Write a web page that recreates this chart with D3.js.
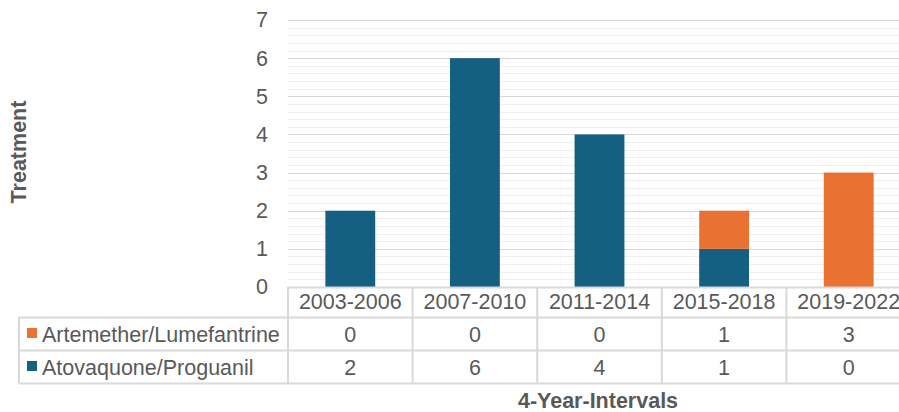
<!DOCTYPE html>
<html>
<head>
<meta charset="utf-8">
<script src="https://cdn.jsdelivr.net/npm/d3@7/dist/d3.min.js"></script>
<style>
  html, body { margin: 0; padding: 0; background: #fff; }
  svg { display: block; }
  text { font-family: "Liberation Sans", Arial, sans-serif; fill: #595959; }
</style>
</head>
<body>
<svg id="chart" width="899" height="412"></svg>
<script>
// Treatment counts per 4-year interval
const categories = ["2003-2006", "2007-2010", "2011-2014", "2015-2018", "2019-2022"];
const seriesNames = ["Atovaquone/Proguanil", "Artemether/Lumefantrine"];
const atovaquone = [2, 6, 4, 1, 0];
const artemether = [0, 0, 0, 1, 3];
const yTicks = [0, 1, 2, 3, 4, 5, 6, 7];
const colors = { "Atovaquone/Proguanil": "#156082", "Artemether/Lumefantrine": "#E97132" };

const svg = d3.select("#chart");
const FS = "21.5px";

const plot = { left: 288, right: 911, top: 20, bottom: 287 };
const tableLeft = 19;
const rowLines = [287, 317, 350, 383];

const x = d3.scaleBand().domain(categories).range([plot.left, plot.right]).paddingInner(0).paddingOuter(0);
const y = d3.scaleLinear().domain([0, 7]).range([plot.bottom, plot.top]);

// minor gridlines every 0.2
const minor = d3.range(0, 7.0001, 0.2).filter(v => Math.abs(v - Math.round(v)) > 1e-6);
svg.append("g").selectAll("line").data(minor).join("line")
  .attr("x1", plot.left).attr("x2", plot.right)
  .attr("y1", d => Math.round(y(d)) + 0.5).attr("y2", d => Math.round(y(d)) + 0.5)
  .attr("stroke", "#EFEFEF").attr("stroke-width", 1);

// major gridlines
svg.append("g").selectAll("line").data(yTicks.filter(d => d > 0)).join("line")
  .attr("x1", plot.left).attr("x2", plot.right)
  .attr("y1", d => Math.round(y(d)) + 0.5).attr("y2", d => Math.round(y(d)) + 0.5)
  .attr("stroke", "#D9D9D9").attr("stroke-width", 1);

// y axis labels
const yAxis = d3.axisLeft(y).tickValues(yTicks).tickSize(0).tickPadding(20).tickFormat(d3.format("d"));
const gy = svg.append("g").attr("transform", `translate(${plot.left},0)`).call(yAxis);
gy.select(".domain").remove();
gy.selectAll("text").style("font-size", FS).attr("fill", "#595959")
  .style("font-family", "'Liberation Sans', Arial, sans-serif");

// stacked bars
const rows = categories.map((c, i) => ({ cat: c, "Atovaquone/Proguanil": atovaquone[i], "Artemether/Lumefantrine": artemether[i] }));
const stacked = d3.stack().keys(seriesNames)(rows);
const barW = x.bandwidth() / 2.5;
svg.append("g").selectAll("g").data(stacked).join("g")
  .attr("fill", d => colors[d.key])
  .selectAll("rect").data(d => d.filter(p => p[1] - p[0] > 0)).join("rect")
  .attr("x", d => x(d.data.cat) + (x.bandwidth() - barW) / 2)
  .attr("width", barW)
  .attr("y", d => y(d[1]))
  .attr("height", d => y(d[0]) - y(d[1]));

// data table
const table = svg.append("g");
const colEdges = [tableLeft].concat(categories.map(c => x(c)), [plot.right]);
// horizontal lines
table.selectAll("line.h").data(rowLines).join("line").attr("class", "h")
  .attr("x1", (d, i) => i === 0 ? plot.left : tableLeft).attr("x2", plot.right)
  .attr("y1", d => d + 0.5).attr("y2", d => d + 0.5)
  .attr("stroke", "#D9D9D9").attr("stroke-width", 2);
// vertical lines
table.selectAll("line.v").data(colEdges).join("line").attr("class", "v")
  .attr("x1", d => d).attr("x2", d => d)
  .attr("y1", (d, i) => i === 0 ? rowLines[1] : rowLines[0])
  .attr("y2", rowLines[3])
  .attr("stroke", "#D9D9D9").attr("stroke-width", 2);

// header: category labels
table.selectAll("text.cat").data(categories).join("text").attr("class", "cat")
  .attr("x", d => x(d) + x.bandwidth() / 2).attr("y", 309)
  .attr("text-anchor", "middle").style("font-size", FS).text(d => d);

// series rows (orange on top, as in the stack)
const tableRows = [
  { name: "Artemether/Lumefantrine", values: artemether, base: 342, top: rowLines[1] },
  { name: "Atovaquone/Proguanil", values: atovaquone, base: 375, top: rowLines[2] }
];
tableRows.forEach(r => {
  table.append("rect").attr("x", 27).attr("y", r.top + 11).attr("width", 10).attr("height", 10)
    .attr("fill", colors[r.name]);
  table.append("text").attr("x", 42).attr("y", r.base).style("font-size", FS).text(r.name);
  table.selectAll(null).data(r.values).join("text")
    .attr("x", (d, i) => x(categories[i]) + x.bandwidth() / 2).attr("y", r.base)
    .attr("text-anchor", "middle").style("font-size", FS).text(d => d);
});

// axis titles
svg.append("text").attr("x", 598).attr("y", 408).attr("text-anchor", "middle")
  .style("font-size", FS).style("font-weight", "bold").text("4-Year-Intervals");
svg.append("text").attr("transform", "translate(26,152) rotate(-90)").attr("text-anchor", "middle")
  .style("font-size", FS).style("font-weight", "bold").text("Treatment");
</script>
</body>
</html>
